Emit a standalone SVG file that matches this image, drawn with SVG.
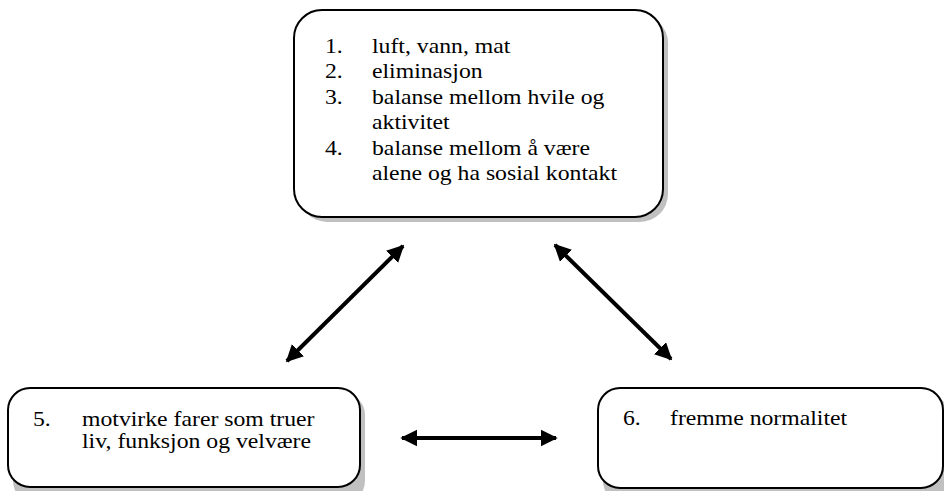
<svg xmlns="http://www.w3.org/2000/svg" width="944" height="491" viewBox="0 0 944 491">
<defs>
<style>
.box{fill:#fff;stroke:#000;stroke-width:2}
.shadow{fill:#c0c0c0}
.t{font-family:'Liberation Serif','Times New Roman',serif;font-size:21px;fill:#000}
.c{stroke:#000;stroke-width:4;fill:none;marker-start:url(#ah);marker-end:url(#ah)}
</style>
<marker id="ah" viewBox="0 0 10 10" refX="9" refY="5" markerWidth="4.3" markerHeight="4.3" orient="auto-start-reverse" markerUnits="strokeWidth">
<path d="M0,0 L10,5 L0,10 z" fill="#000"/>
</marker>
</defs>
<rect width="944" height="491" fill="#fff"/>
<g id="node1">
<rect class="shadow" x="299" y="15" width="369" height="207" rx="28"/>
<rect class="box" x="294" y="10" width="369" height="207" rx="28"/>
<g transform="translate(325,0) scale(1.13,1)">
<text class="t" x="0" y="53">1.</text><text class="t" x="41.6" y="53">luft, vann, mat</text>
<text class="t" x="0" y="78">2.</text><text class="t" x="41.6" y="78">eliminasjon</text>
<text class="t" x="0" y="104">3.</text><text class="t" x="41.6" y="104">balanse mellom hvile og</text>
<text class="t" x="41.6" y="129">aktivitet</text>
<text class="t" x="0" y="155">4.</text><text class="t" x="41.6" y="155">balanse mellom å være</text>
<text class="t" x="41.6" y="180">alene og ha sosial kontakt</text>
</g>
</g>
<g id="node5">
<rect class="shadow" x="13" y="393" width="352" height="110" rx="22"/>
<rect class="box" x="8" y="388" width="352" height="99" rx="22"/>
<g transform="translate(33,0) scale(1.13,1)">
<text class="t" x="0" y="426">5.</text><text class="t" x="43.4" y="426">motvirke farer som truer</text>
<text class="t" x="43.4" y="448">liv, funksjon og velvære</text>
</g>
</g>
<g id="node6">
<rect class="shadow" x="603" y="393" width="345" height="110" rx="22"/>
<rect class="box" x="598" y="388" width="345" height="100" rx="22"/>
<g transform="translate(623,0) scale(1.13,1)">
<text class="t" x="0" y="425">6.</text><text class="t" x="41.6" y="425">fremme normalitet</text>
</g>
</g>
<g id="connectors">
<line class="c" x1="287" y1="361" x2="403" y2="246"/>
<line class="c" x1="555" y1="245" x2="671" y2="359"/>
<line class="c" x1="402" y1="438" x2="556" y2="438"/>
</g>
</svg>
